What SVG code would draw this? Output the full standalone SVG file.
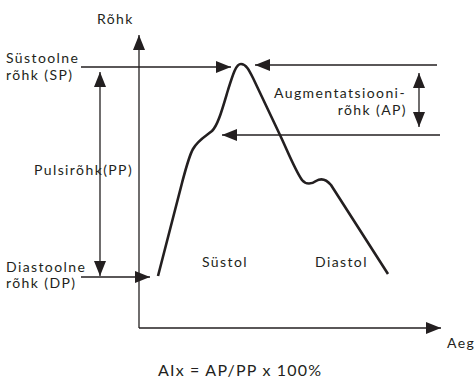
<svg xmlns="http://www.w3.org/2000/svg" width="476" height="379" viewBox="0 0 476 379">
<style>
text{font-family:Lato,"Noto Sans",sans-serif;font-size:14px;letter-spacing:1.4px;fill:#231f20}
.f{font-size:16px;letter-spacing:1.2px}
.ln{stroke:#231f20;stroke-width:1.3;fill:none}
.cv{stroke:#231f20;stroke-width:2.6;fill:none;stroke-linejoin:round;stroke-linecap:butt}
</style>
<defs>
<marker id="ah" markerUnits="userSpaceOnUse" markerWidth="16" markerHeight="13" refX="15" refY="6" orient="auto-start-reverse" viewBox="0 0 16 13">
<path d="M0,0 L15,6 L0,12 z" fill="#231f20"/>
</marker>
</defs>
<rect width="476" height="379" fill="#fff"/>
<g id="connectors">
<path class="ln" d="M139,328 L139,35" marker-end="url(#ah)"/>
<path class="ln" d="M139,328 L441,328" marker-end="url(#ah)"/>
<path class="ln" d="M81,67 L231,67" marker-end="url(#ah)"/>
<path class="ln" d="M81,277 L150,277" marker-end="url(#ah)"/>
<path class="ln" d="M100,72 L100,276" marker-start="url(#ah)" marker-end="url(#ah)"/>
<path class="ln" d="M437,65 L255,65" marker-end="url(#ah)"/>
<path class="ln" d="M440,135 L222,135" marker-end="url(#ah)"/>
<path class="ln" d="M419,73 L419,127" marker-start="url(#ah)" marker-end="url(#ah)"/>
</g>
<g id="curve">
<path class="cv" d="M158,276 L182,183 C186,168 189,156 193,149 C198,140 206,136 212,131 C218,125 222,110 228,90 C233,74 236,64 241,64 C246,64 249,70 253,78 L280,135 C288,152 295,170 302,180 C306,185 312,184 316,181 C321,178 326,179 331,185 L388,274"/>
</g>
<g id="labels">
<text x="97" y="24">Rõhk</text>
<text x="6" y="63">Süstoolne</text>
<text x="6" y="80">rõhk (SP)</text>
<text x="34" y="175">Pulsirõhk(PP)</text>
<text x="6" y="272">Diastoolne</text>
<text x="6" y="288">rõhk (DP)</text>
<text x="406" y="98" text-anchor="end">Augmentatsiooni-</text>
<text x="407" y="115" text-anchor="end">rõhk (AP)</text>
<text x="202" y="267">Süstol</text>
<text x="315" y="267">Diastol</text>
<text x="447" y="348">Aeg</text>
<text class="f" x="158" y="376">AIx = AP/PP x 100%</text>
</g>
</svg>
